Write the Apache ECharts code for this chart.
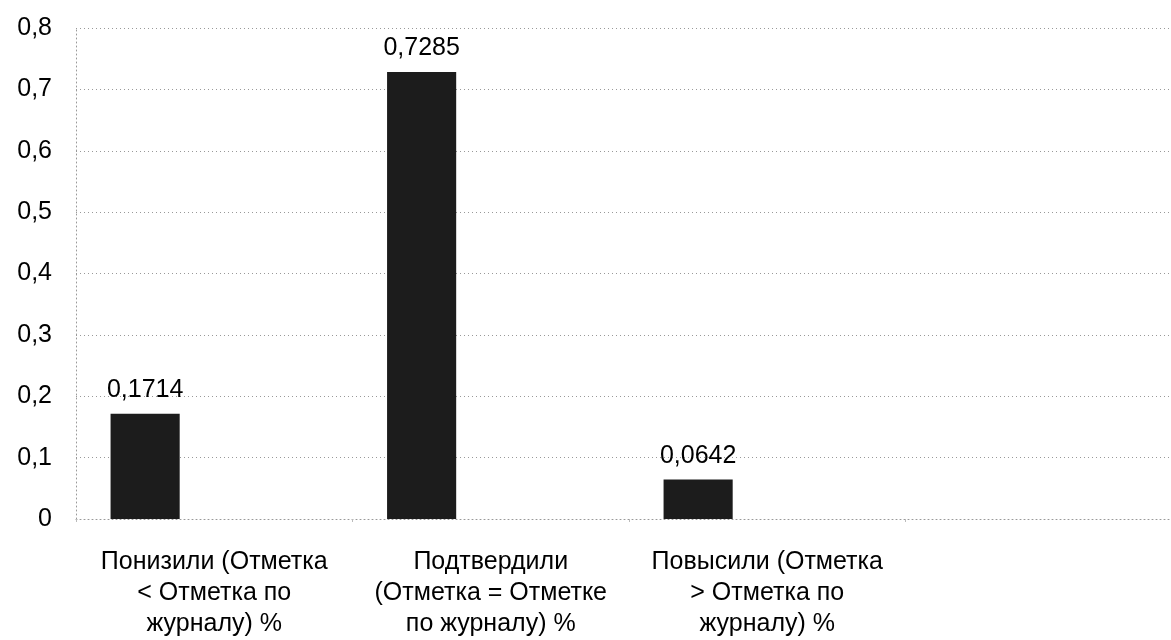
<!DOCTYPE html>
<html>
<head>
<meta charset="utf-8">
<script src="https://cdn.jsdelivr.net/npm/echarts@6/dist/echarts.min.js"></script>
<style>
html,body{margin:0;padding:0;background:#fff;overflow:hidden;width:1171px;height:640px;}
#chart{width:1182px;height:640px;}
</style>
</head>
<body>
<div id="chart"></div>
<script>
const categories = [
  'Понизили (Отметка\n< Отметка по\nжурналу) %',
  'Подтвердили\n(Отметка = Отметке\nпо журналу) %',
  'Повысили (Отметка\n> Отметка по\nжурналу) %',
  ''
];
const values = [0.1714, 0.7285, 0.0642, null];
const emptyValues = [null, null, null, null];
const yMin = 0, yMax = 0.8, yStep = 0.1;

const fmt = v => String(v).replace('.', ',');
const fontFamily = '"Liberation Sans", Arial, sans-serif';

const chart = echarts.init(document.getElementById('chart'), null, {renderer: 'canvas'});
chart.setOption({
  animation: false,
  backgroundColor: '#ffffff',
  textStyle: {fontFamily: fontFamily, color: '#000'},
  grid: {left: 76, right: 0, top: 28, bottom: 121, containLabel: false},
  xAxis: {
    type: 'category',
    data: categories,
    axisLine: {show: true, lineStyle: {color: '#999', type: [1, 3], width: 1}},
    axisTick: {show: true, length: 3, lineStyle: {color: '#bbb'}},
    axisLabel: {
      interval: 0,
      margin: 28,
      fontSize: 25,
      lineHeight: 31,
      color: '#000',
      fontFamily: fontFamily,
      align: 'center'
    }
  },
  yAxis: {
    type: 'value',
    min: yMin,
    max: yMax,
    interval: yStep,
    axisLine: {show: true, lineStyle: {color: '#999', type: [1, 3], width: 1}},
    axisTick: {show: false},
    splitLine: {show: true, lineStyle: {color: '#999', type: [1, 3], width: 1}},
    axisLabel: {
      margin: 24,
      fontSize: 25,
      color: '#000',
      fontFamily: fontFamily,
      formatter: v => fmt(Math.round(v * 10) / 10)
    }
  },
  series: [
    {
      type: 'bar',
      data: values,
      barGap: '0%',
      barCategoryGap: '25%',
      itemStyle: {color: '#1c1c1c'},
      label: {
        show: true,
        position: 'top',
        distance: 11,
        fontSize: 25,
        color: '#000',
        fontFamily: fontFamily,
        formatter: p => fmt(p.value)
      }
    },
    {type: 'bar', data: emptyValues, barGap: '0%', barCategoryGap: '25%', silent: true},
    {type: 'bar', data: emptyValues, barGap: '0%', barCategoryGap: '25%', silent: true}
  ]
});
</script>
</body>
</html>
